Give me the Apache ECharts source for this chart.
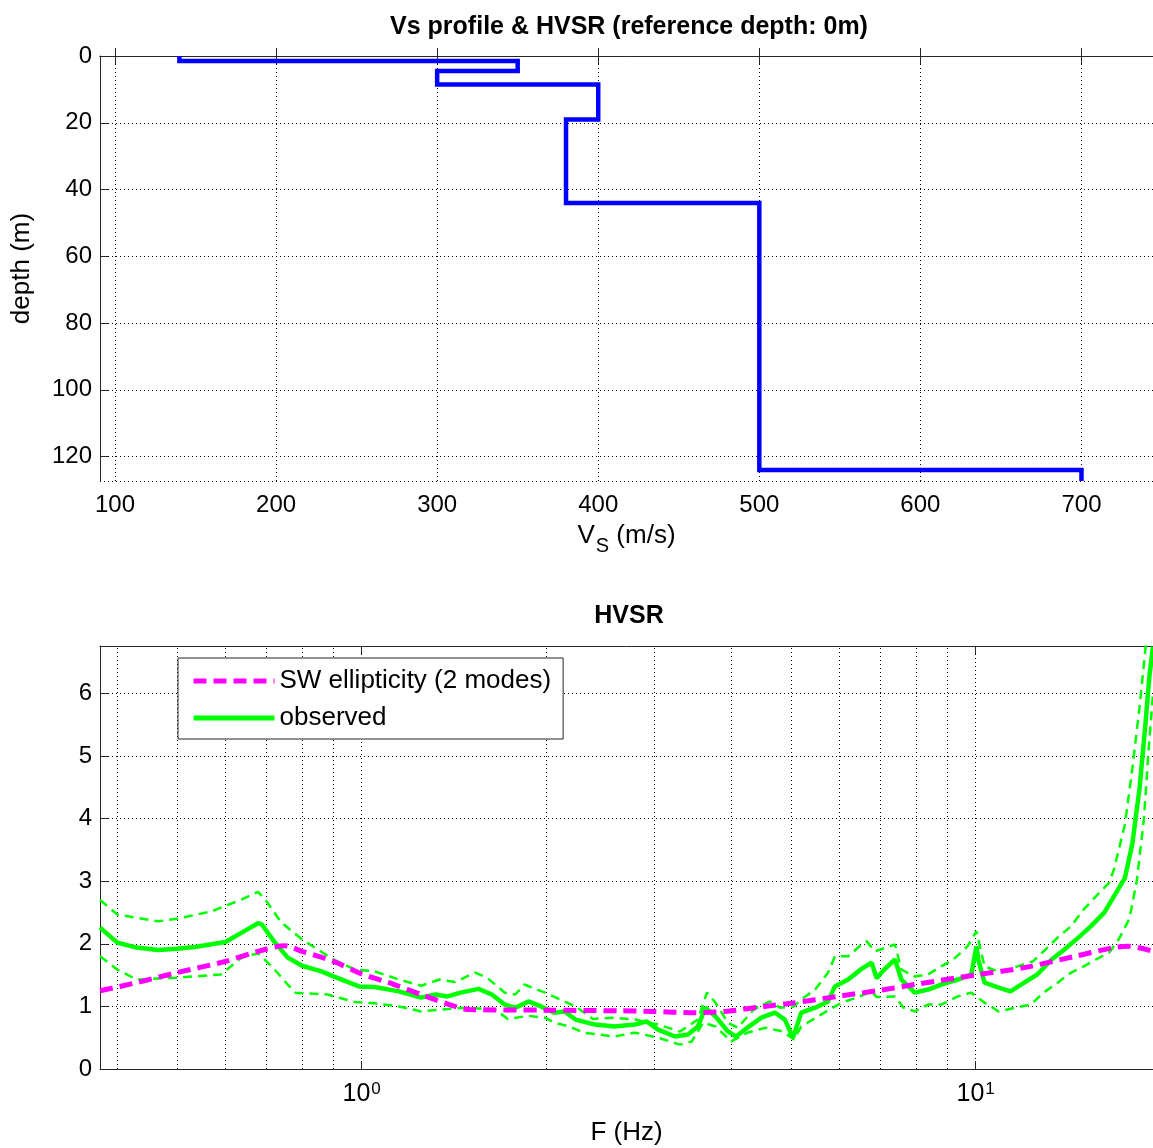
<!DOCTYPE html>
<html>
<head>
<meta charset="utf-8">
<script src="https://cdn.jsdelivr.net/npm/echarts@6/dist/echarts.min.js"></script>
<style>
  html, body { margin: 0; padding: 0; background: #fff; }
  #chart { width: 1153px; height: 1148px; }
</style>
</head>
<body>
<div id="chart"></div>
<script>
// Vs profile: one velocity per layer, with the depth of the layer top
const layerVs = [140, 350, 300, 400, 380, 500, 700];
const layerTop = [0, 1.5, 4.5, 8.5, 19, 44, 124];
const profileEnd = 127.3;

// SW ellipticity (2 modes)
const ellFreq = [0.375, 0.43, 0.5, 0.6, 0.678, 0.75, 0.8, 0.9, 1.0, 1.13, 1.25, 1.42, 1.5, 2.0, 2.63, 3.0, 3.45, 3.9, 4.53, 5.0, 6.05, 7.0, 7.96, 10.1, 12.0, 14.5, 16.8, 17.8, 19.45];
const ellRatio = [1.25, 1.38, 1.54, 1.72, 1.88, 1.97, 1.88, 1.72, 1.52, 1.35, 1.19, 1.0, 0.95, 0.94, 0.93, 0.92, 0.9, 0.92, 1.0, 1.05, 1.17, 1.26, 1.35, 1.51, 1.62, 1.8, 1.94, 1.96, 1.88];

// observed HVSR, mean
const obsFreq = [0.375, 0.4, 0.43, 0.466, 0.5, 0.535, 0.6, 0.638, 0.678, 0.688, 0.72, 0.758, 0.8, 0.86, 0.9, 0.99, 1.05, 1.15, 1.25, 1.32, 1.38, 1.45, 1.55, 1.63, 1.71, 1.78, 1.87, 1.96, 2.06, 2.14, 2.23, 2.4, 2.58, 2.79, 2.91, 3.04, 3.24, 3.4, 3.53, 3.63, 3.77, 3.95, 4.07, 4.25, 4.48, 4.71, 4.89, 5.04, 5.2, 5.48, 5.75, 5.9, 6.2, 6.52, 6.77, 6.9, 7.1, 7.39, 7.57, 7.96, 8.37, 8.79, 9.36, 9.84, 10.03, 10.1, 10.34, 10.9, 11.4, 12.0, 12.6, 13.3, 13.95, 14.7, 15.4, 16.2, 16.8, 17.5, 18.0, 18.5, 18.9, 19.2, 19.45];
const obsMean = [2.26, 2.02, 1.94, 1.9, 1.92, 1.95, 2.03, 2.18, 2.33, 2.31, 2.04, 1.78, 1.65, 1.56, 1.48, 1.32, 1.31, 1.24, 1.14, 1.19, 1.16, 1.22, 1.28, 1.19, 1.03, 0.98, 1.08, 1.0, 0.9, 0.92, 0.79, 0.71, 0.68, 0.71, 0.76, 0.63, 0.52, 0.55, 0.68, 0.98, 0.84, 0.6, 0.52, 0.66, 0.82, 0.9, 0.79, 0.5, 0.9, 0.98, 1.08, 1.32, 1.43, 1.6, 1.7, 1.45, 1.59, 1.75, 1.43, 1.22, 1.27, 1.35, 1.43, 1.51, 1.96, 1.75, 1.38, 1.3, 1.24, 1.38, 1.51, 1.75, 1.91, 2.1, 2.28, 2.5, 2.76, 3.05, 3.6, 4.5, 5.5, 6.3, 6.75];

// observed HVSR, mean + std
const upperFreq = [0.375, 0.4, 0.466, 0.5, 0.57, 0.638, 0.678, 0.7, 0.74, 0.8, 0.9, 0.975, 1.05, 1.15, 1.25, 1.34, 1.42, 1.53, 1.6, 1.71, 1.78, 1.84, 1.99, 2.14, 2.23, 2.38, 2.58, 2.79, 3.04, 3.3, 3.53, 3.65, 3.77, 3.95, 4.1, 4.35, 4.62, 4.8, 5.06, 5.2, 5.48, 5.75, 5.9, 6.2, 6.52, 6.65, 6.85, 7.0, 7.39, 7.57, 7.96, 8.37, 8.79, 9.2, 9.7, 10.03, 10.34, 11.0, 11.7, 12.4, 13.0, 13.6, 14.3, 15.0, 15.7, 16.5, 16.8, 17.5, 18.0, 18.5, 18.9, 19.1];
const upperVal = [2.7, 2.47, 2.36, 2.4, 2.52, 2.71, 2.83, 2.68, 2.34, 2.07, 1.75, 1.59, 1.56, 1.43, 1.33, 1.43, 1.39, 1.54, 1.46, 1.22, 1.19, 1.35, 1.22, 1.08, 1.0, 0.8, 0.82, 0.79, 0.71, 0.6, 0.79, 1.22, 1.06, 0.74, 0.66, 0.95, 1.08, 0.98, 1.0, 1.11, 1.27, 1.54, 1.8, 1.8, 1.99, 2.04, 1.88, 1.91, 1.99, 1.59, 1.48, 1.51, 1.64, 1.75, 1.96, 2.2, 1.64, 1.54, 1.64, 1.72, 1.91, 2.1, 2.28, 2.55, 2.76, 2.98, 3.19, 3.9, 4.8, 5.8, 6.7, 7.2];

// observed HVSR, mean - std
const lowerFreq = [0.375, 0.4, 0.43, 0.5, 0.59, 0.638, 0.678, 0.714, 0.758, 0.78, 0.88, 0.975, 1.05, 1.15, 1.25, 1.35, 1.48, 1.65, 1.73, 1.87, 1.99, 2.06, 2.18, 2.3, 2.58, 2.79, 3.04, 3.3, 3.45, 3.6, 3.77, 4.0, 4.25, 4.55, 4.85, 5.06, 5.2, 5.6, 6.05, 6.4, 6.77, 6.9, 7.39, 7.63, 7.96, 8.37, 8.79, 9.36, 9.84, 10.34, 10.9, 11.6, 12.3, 12.9, 13.6, 14.3, 15.0, 15.7, 16.5, 17.1, 17.8, 18.3, 18.8, 19.1, 19.45];
const lowerVal = [1.8, 1.59, 1.43, 1.46, 1.51, 1.78, 1.85, 1.64, 1.35, 1.22, 1.19, 1.07, 1.05, 1.0, 0.92, 0.95, 0.98, 0.95, 0.8, 0.85, 0.82, 0.74, 0.68, 0.58, 0.52, 0.58, 0.5, 0.39, 0.44, 0.74, 0.68, 0.44, 0.58, 0.66, 0.6, 0.47, 0.68, 0.87, 1.06, 1.14, 1.24, 1.15, 1.16, 0.98, 0.92, 1.03, 1.03, 1.16, 1.22, 1.06, 0.92, 0.98, 1.03, 1.22, 1.38, 1.54, 1.64, 1.75, 1.86, 2.07, 2.4, 3.0, 4.0, 5.0, 6.0];

// minor grid lines of the log axis
const minorFreq = [0.4, 0.5, 0.6, 0.7, 0.8, 0.9, 2, 3, 4, 5, 6, 7, 8, 9];

const zip = (xs, ys) => xs.map((x, i) => [x, ys[i]]);

// step line for the profile
const profile = [];
layerVs.forEach((vs, i) => {
  const bottom = i < layerTop.length - 1 ? layerTop[i + 1] : profileEnd;
  profile.push([vs, layerTop[i]], [vs, bottom]);
});

const font = 'Liberation Sans, Arial, Helvetica, sans-serif';
const dotted = { color: '#000', width: 1, type: [1, 3] };
const axisLine = { show: true, lineStyle: { color: '#262626', width: 1 } };
const tickIn = { show: true, inside: true, length: 8, lineStyle: { color: '#262626' } };
const isDecade = v => Math.abs(Math.log10(v) - Math.round(Math.log10(v))) < 1e-6;
const noSymbol = { color: 'rgba(0,0,0,0)', borderColor: 'rgba(0,0,0,0)', borderWidth: 0 };

const chart = echarts.init(document.getElementById('chart'));

chart.setOption({
  animation: false,
  textStyle: { fontFamily: font },
  title: [
    {
      text: 'Vs profile & HVSR (reference depth: 0m)',
      left: 629, top: 15, textAlign: 'center', padding: 0,
      textStyle: { fontSize: 25, fontWeight: 'bold', color: '#000', fontFamily: font }
    },
    {
      text: 'HVSR',
      left: 629, top: 604, textAlign: 'center', padding: 0,
      textStyle: { fontSize: 25, fontWeight: 'bold', color: '#000', fontFamily: font }
    }
  ],
  legend: {
    left: 178, top: 658,
    orient: 'vertical',
    padding: [10, 12, 8, 13],
    itemGap: 11,
    itemWidth: 81,
    itemHeight: 26,
    backgroundColor: '#fff',
    borderColor: '#262626',
    borderWidth: 1,
    textStyle: { fontSize: 26, color: '#000', fontFamily: font },
    data: [
      { name: 'SW ellipticity (2 modes)', itemStyle: noSymbol, lineStyle: { width: 5, type: [13, 7], color: '#ff00ff' } },
      { name: 'observed', itemStyle: noSymbol, lineStyle: { width: 5, type: 'solid', color: '#00ff00' } }
    ]
  },
  grid: [
    { left: 100, top: 56, right: 0, height: 425 },
    { left: 100, top: 646, right: 0, height: 423 }
  ],
  xAxis: [
    {
      gridIndex: 0, type: 'value', position: 'bottom',
      min: 90.7, max: 744.4, splitNumber: 6,
      axisLine, axisTick: tickIn,
      axisLabel: {
        fontSize: 24, color: '#000', margin: 12,
        showMinLabel: false, showMaxLabel: false,
        formatter: v => (v % 100 === 0 ? String(v) : '')
      },
      splitLine: { show: true, lineStyle: dotted },
      name: '{v|V}{s|S}{v| (m/s)}',
      nameLocation: 'middle', nameGap: 42,
      nameTextStyle: {
        rich: {
          v: { fontSize: 26, color: '#000', fontFamily: font, verticalAlign: 'top', lineHeight: 27 },
          s: { fontSize: 20, color: '#000', fontFamily: font, verticalAlign: 'top', lineHeight: 20, padding: [13, 0, 0, 1] }
        }
      }
    },
    {
      gridIndex: 0, type: 'value', position: 'top',
      min: 90.7, max: 744.4, splitNumber: 6,
      axisLine, axisTick: tickIn,
      axisLabel: { show: false }, splitLine: { show: false }
    },
    {
      gridIndex: 1, type: 'log', logBase: 10, position: 'bottom',
      min: 0.3749, max: 19.45,
      axisLine, axisTick: tickIn,
      axisLabel: {
        margin: 12, color: '#000',
        showMinLabel: false, showMaxLabel: false,
        formatter: v => (isDecade(v) ? '{b|10}{e|' + Math.round(Math.log10(v)) + '}' : ''),
        rich: {
          b: { fontSize: 25, color: '#000', fontFamily: font, lineHeight: 26, verticalAlign: 'bottom', padding: [6, 0, 0, 0] },
          e: { fontSize: 17, color: '#000', fontFamily: font, lineHeight: 17, verticalAlign: 'top', padding: [0, 0, 15, 1] }
        }
      },
      splitLine: { show: true, lineStyle: dotted },
      name: 'F (Hz)', nameLocation: 'middle', nameGap: 51,
      nameTextStyle: { fontSize: 26, color: '#000', fontFamily: font }
    },
    {
      gridIndex: 1, type: 'log', logBase: 10, position: 'top',
      min: 0.3749, max: 19.45,
      axisLine, axisTick: tickIn,
      axisLabel: { show: false }, splitLine: { show: false }
    }
  ],
  yAxis: [
    {
      gridIndex: 0, type: 'value', inverse: true,
      min: 0, max: profileEnd, interval: 20,
      axisLine, axisTick: tickIn,
      axisLabel: { fontSize: 24, color: '#000', margin: 8, showMaxLabel: false },
      splitLine: { show: true, lineStyle: dotted },
      name: 'depth (m)', nameLocation: 'middle', nameGap: 65, nameRotate: 90,
      nameTextStyle: { fontSize: 26, color: '#000', fontFamily: font }
    },
    {
      gridIndex: 1, type: 'value',
      min: 0, max: 6.76, interval: 1,
      axisLine, axisTick: tickIn,
      axisLabel: { fontSize: 24, color: '#000', margin: 8, showMaxLabel: false },
      splitLine: { show: true, lineStyle: dotted }
    }
  ],
  series: [
    {
      name: 'Vs profile', type: 'line',
      xAxisIndex: 0, yAxisIndex: 0,
      data: profile, symbol: 'none',
      lineStyle: { color: '#0000ff', width: 4.5, join: 'miter' }
    },
    {
      name: 'minor grid', type: 'line',
      xAxisIndex: 2, yAxisIndex: 1, data: [], z: 0,
      markLine: {
        silent: true, symbol: 'none', z: 0,
        label: { show: false },
        lineStyle: dotted,
        data: minorFreq.map(f => ({ xAxis: f }))
      }
    },
    {
      name: 'observed +std', type: 'line',
      xAxisIndex: 2, yAxisIndex: 1,
      data: zip(upperFreq, upperVal), symbol: 'none',
      lineStyle: { color: '#00ff00', width: 2.5, type: [9, 6] }
    },
    {
      name: 'observed -std', type: 'line',
      xAxisIndex: 2, yAxisIndex: 1,
      data: zip(lowerFreq, lowerVal), symbol: 'none',
      lineStyle: { color: '#00ff00', width: 2.5, type: [9, 6] }
    },
    {
      name: 'observed', type: 'line',
      xAxisIndex: 2, yAxisIndex: 1,
      data: zip(obsFreq, obsMean), symbol: 'none',
      itemStyle: { color: '#00ff00' },
      lineStyle: { color: '#00ff00', width: 4.5 }
    },
    {
      name: 'SW ellipticity (2 modes)', type: 'line',
      xAxisIndex: 2, yAxisIndex: 1,
      data: zip(ellFreq, ellRatio), symbol: 'none', smooth: 0.3,
      itemStyle: { color: '#ff00ff' },
      lineStyle: { color: '#ff00ff', width: 5, type: [13, 7] }
    }
  ]
});
</script>
</body>
</html>
